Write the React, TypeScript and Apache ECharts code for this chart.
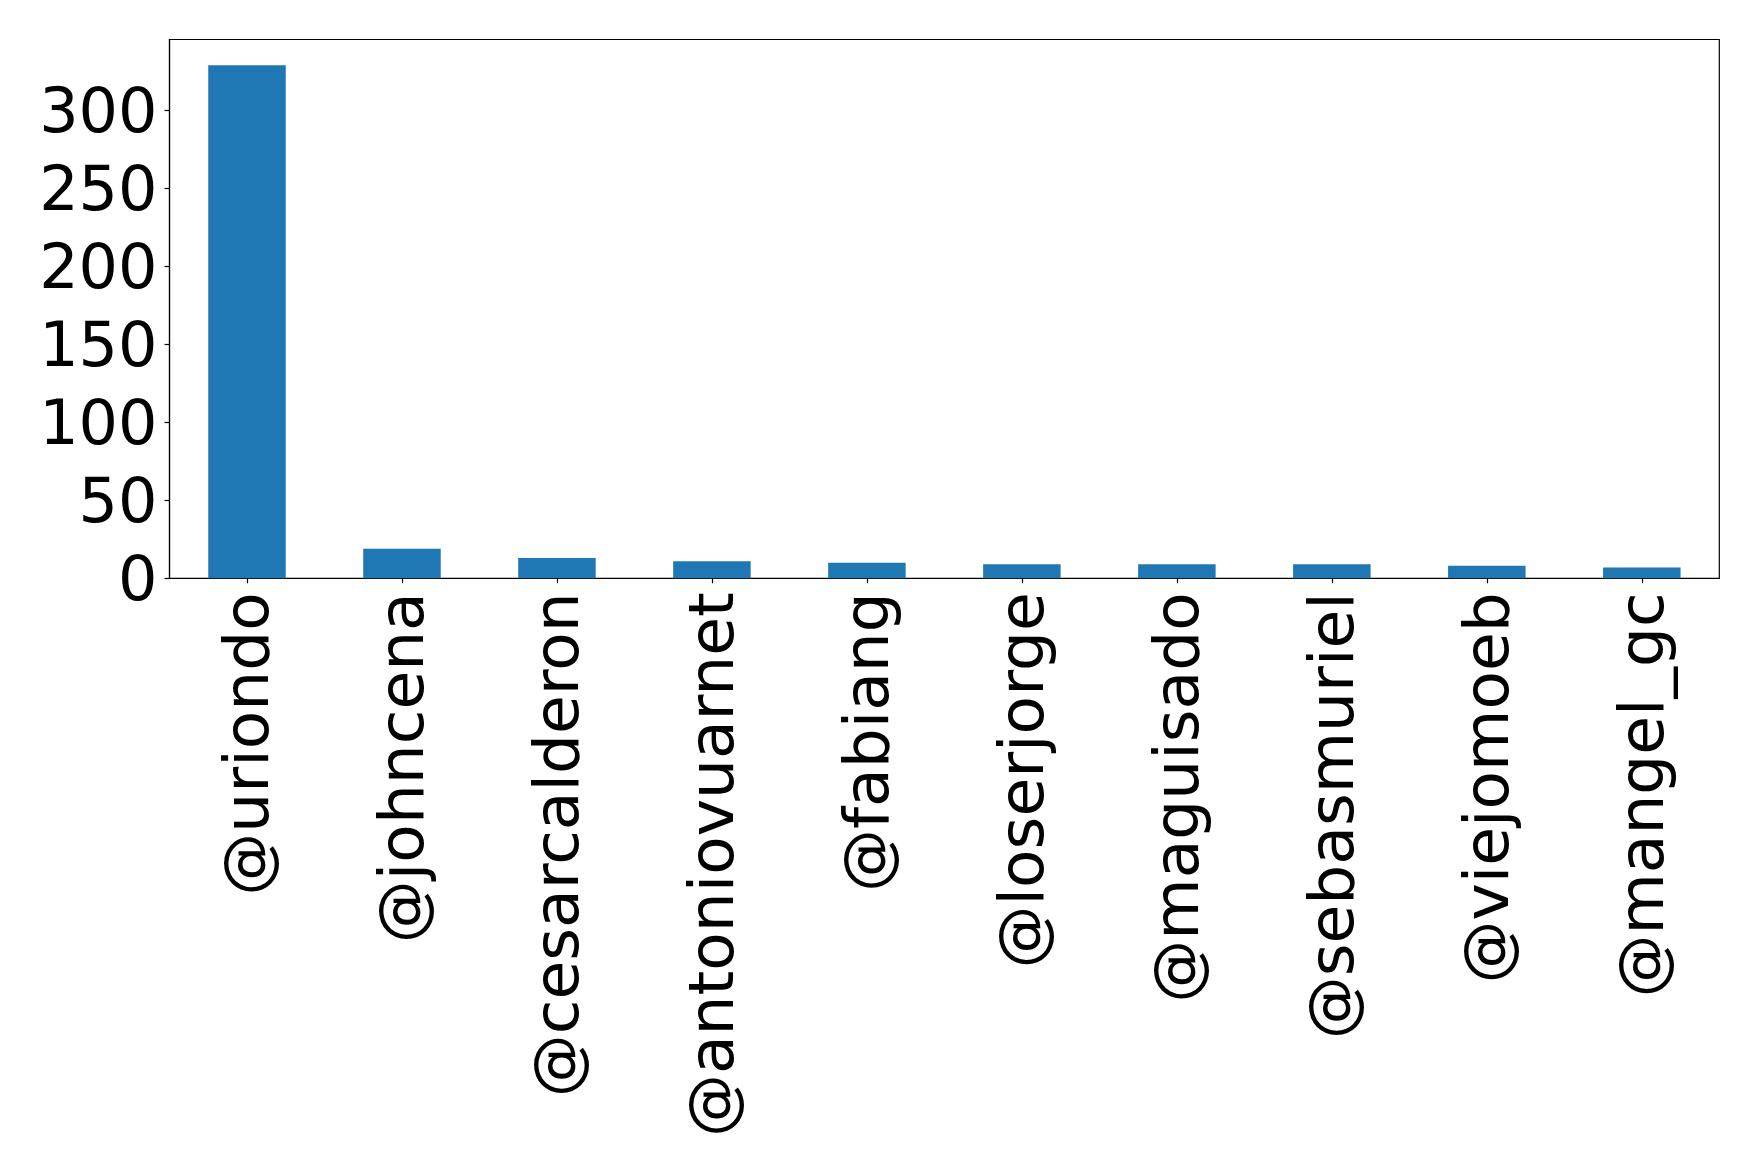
import React, { useEffect, useRef } from "react";
import * as echarts from "echarts";

const categories = [
  "@uriondo",
  "@johncena",
  "@cesarcalderon",
  "@antoniovuarnet",
  "@fabiang",
  "@loserjorge",
  "@maguisado",
  "@sebasmuriel",
  "@viejomoeb",
  "@mangel_gc",
];
const counts = [329, 19, 13, 11, 10, 9, 9, 9, 8, 7];
const yMax = 345.45;
const yInterval = 50;

export default function App() {
  const ref = useRef<HTMLDivElement>(null);
  useEffect(() => {
    if (!ref.current) return;
    const chart = echarts.init(ref.current, null, { renderer: "svg" });
    const font = "DejaVu Sans";
    chart.setOption({
      animation: false,
      backgroundColor: "#ffffff",
      grid: {
        left: 169.5,
        top: 39.5,
        right: 39.7,
        bottom: 589.7,
        show: true,
        borderColor: "#000000",
        borderWidth: 1.2,
        backgroundColor: "transparent",
      },
      xAxis: {
        type: "category",
        data: categories,
        boundaryGap: true,
        axisLine: { show: true, lineStyle: { color: "#000000", width: 1.2 } },
        axisTick: {
          show: true,
          alignWithLabel: true,
          length: 5,
          lineStyle: { color: "#000000", width: 1.2 },
        },
        axisLabel: {
          rotate: 90,
          interval: 0,
          margin: 14,
          color: "#000000",
          fontFamily: font,
          fontSize: 63,
        },
        splitLine: { show: false },
      },
      yAxis: {
        type: "value",
        min: 0,
        max: yMax,
        interval: yInterval,
        axisLine: { show: true, lineStyle: { color: "#000000", width: 1.2 } },
        axisTick: {
          show: true,
          length: 5,
          lineStyle: { color: "#000000", width: 1.2 },
        },
        axisLabel: {
          margin: 12,
          color: "#000000",
          fontFamily: font,
          fontSize: 62,
          showMaxLabel: false,
        },
        splitLine: { show: false },
      },
      series: [
        {
          type: "bar",
          data: counts,
          barWidth: "50%",
          itemStyle: { color: "#1f77b4" },
        },
      ],
    });
    return () => chart.dispose();
  }, []);
  return (
    <div
      ref={ref}
      style={{ position: "fixed", left: 0, top: 0, width: 1759, height: 1168 }}
    />
  );
}
